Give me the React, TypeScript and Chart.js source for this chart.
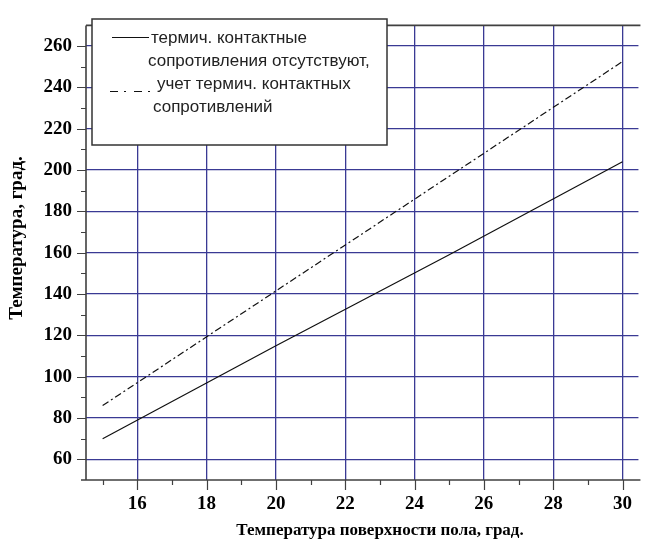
import React, { useEffect, useRef } from 'react';
import { Chart, registerables } from 'chart.js';

Chart.register(...registerables);

// ---- data ----
const xValues = [15, 20, 25, 30];
const noContactResistance = [70, 115, 159, 204];
const withContactResistance = [86, 141.5, 197, 252.5];

const xTickValues = [16, 18, 20, 22, 24, 26, 28, 30];
const xMinorValues = [15, 17, 19, 21, 23, 25, 27, 29];
const yTickValues = [60, 80, 100, 120, 140, 160, 180, 200, 220, 240, 260];
const yMinorValues = [70, 90, 110, 130, 150, 170, 190, 210, 230, 250];

const legendLines1 = ['термич. контактные', 'сопротивления отсутствуют,'];
const legendLines2 = ['учет термич. контактных', 'сопротивлений'];

const xTitle = 'Температура поверхности пола, град.';
const yTitle = 'Температура, град.';

const GRID = '#3a3a94';
const AXIS = '#404040';
const SERIF = '"Liberation Serif", "Times New Roman", serif';
const SANS = '"Liberation Sans", Arial, sans-serif';
const DASHDOT = [7, 3, 2, 3];

const decorPlugin = {
  id: 'decor',
  afterDatasetsDraw(chart: any) {
    const ctx = chart.ctx as CanvasRenderingContext2D;
    const { left, right, top, bottom } = chart.chartArea;
    const xs = chart.scales.x;
    const ys = chart.scales.y;
    ctx.save();
    // borders
    ctx.strokeStyle = AXIS;
    ctx.lineWidth = 1.6;
    ctx.beginPath();
    ctx.moveTo(left, top);
    ctx.lineTo(left, bottom);
    ctx.moveTo(left - 5, bottom);
    ctx.lineTo(right + 2, bottom);
    ctx.moveTo(left, top);
    ctx.lineTo(right + 2, top);
    ctx.stroke();
    // ticks
    ctx.lineWidth = 1.2;
    ctx.beginPath();
    yTickValues.forEach((v) => {
      const y = Math.round(ys.getPixelForValue(v)) + 0.5;
      ctx.moveTo(left - 9, y);
      ctx.lineTo(left, y);
    });
    yMinorValues.forEach((v) => {
      const y = Math.round(ys.getPixelForValue(v)) + 0.5;
      ctx.moveTo(left - 5, y);
      ctx.lineTo(left, y);
    });
    xTickValues.forEach((v) => {
      const x = Math.round(xs.getPixelForValue(v)) + 0.5;
      ctx.moveTo(x, bottom);
      ctx.lineTo(x, bottom + 10);
    });
    xMinorValues.forEach((v) => {
      const x = Math.round(xs.getPixelForValue(v)) + 0.5;
      ctx.moveTo(x, bottom);
      ctx.lineTo(x, bottom + 5);
    });
    ctx.stroke();

    // legend box
    const bx = 92, by = 19, bw = 295, bh = 126;
    ctx.fillStyle = '#ffffff';
    ctx.fillRect(bx, by, bw, bh);
    ctx.strokeStyle = '#333333';
    ctx.lineWidth = 1.5;
    ctx.strokeRect(bx, by, bw, bh);

    ctx.strokeStyle = '#111111';
    ctx.lineWidth = 1.2;
    ctx.beginPath();
    ctx.moveTo(112, 37.5);
    ctx.lineTo(149, 37.5);
    ctx.stroke();
    ctx.setLineDash([8, 6, 2, 8]);
    ctx.beginPath();
    ctx.moveTo(110, 91.5);
    ctx.lineTo(152, 91.5);
    ctx.stroke();
    ctx.setLineDash([]);

    ctx.fillStyle = '#222222';
    ctx.font = `17px ${SANS}`;
    ctx.textBaseline = 'middle';
    ctx.textAlign = 'left';
    ctx.fillText(legendLines1[0], 151, 38);
    ctx.fillText(legendLines1[1], 148, 61);
    ctx.fillText(legendLines2[0], 157, 84);
    ctx.fillText(legendLines2[1], 153, 107);

    // axis titles
    ctx.fillStyle = '#000000';
    ctx.font = `bold 17px ${SERIF}`;
    ctx.textAlign = 'center';
    ctx.fillText(xTitle, 380, 531);
    ctx.font = `bold 19px ${SERIF}`;
    ctx.translate(17, 238);
    ctx.rotate(-Math.PI / 2);
    ctx.fillText(yTitle, 0, 0);
    ctx.restore();
  },
};

export default function App() {
  const ref = useRef<HTMLCanvasElement>(null);
  useEffect(() => {
    document.body.style.margin = '0';
    const canvas = ref.current!;
    const chart = new Chart(canvas, {
      type: 'line',
      data: {
        datasets: [
          {
            label: 'термич. контактные сопротивления отсутствуют',
            data: xValues.map((x, i) => ({ x, y: noContactResistance[i] })),
            borderColor: '#111111',
            borderWidth: 1.2,
            pointRadius: 0,
            tension: 0,
          },
          {
            label: 'учет термич. контактных сопротивлений',
            data: xValues.map((x, i) => ({ x, y: withContactResistance[i] })),
            borderColor: '#111111',
            borderWidth: 1.2,
            borderDash: DASHDOT,
            pointRadius: 0,
            tension: 0,
          },
        ],
      },
      options: {
        responsive: false,
        animation: false,
        events: [],
        layout: { padding: { top: 10, left: 0, right: 0, bottom: 0 } },
        plugins: { legend: { display: false }, tooltip: { enabled: false } },
        scales: {
          x: {
            type: 'linear',
            min: 14.52,
            max: 30.46,
            afterBuildTicks: (s: any) => {
              s.ticks = xTickValues.map((v) => ({ value: v }));
            },
            afterFit: (s: any) => {
              s.height = 71;
            },
            grid: { color: GRID, lineWidth: 1.3, drawTicks: false },
            border: { display: false },
            ticks: {
              font: { family: SERIF, weight: 'bold', size: 19 },
              color: '#000000',
              padding: 13,
              maxRotation: 0,
              autoSkip: false,
            },
          },
          y: {
            type: 'linear',
            min: 50,
            max: 270,
            afterBuildTicks: (s: any) => {
              s.ticks = yTickValues.map((v) => ({ value: v }));
            },
            afterFit: (s: any) => {
              s.width = 86;
            },
            grid: { color: GRID, lineWidth: 1.3, drawTicks: false },
            border: { display: false },
            ticks: {
              font: { family: SERIF, weight: 'bold', size: 19 },
              color: '#000000',
              padding: 14,
              autoSkip: false,
            },
          },
        },
      },
      plugins: [decorPlugin],
    });
    return () => chart.destroy();
  }, []);
  return (
    <div style={{ width: 645, height: 551 }}>
      <canvas ref={ref} width={645} height={551} />
    </div>
  );
}
